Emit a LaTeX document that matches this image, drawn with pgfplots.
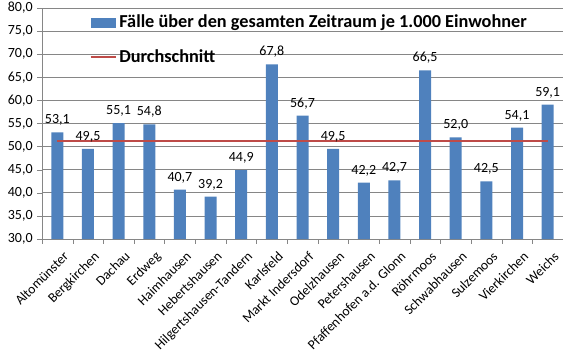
\documentclass[border=0pt]{standalone}
\usepackage{fontspec}
\setmainfont{Carlito}
\usepackage{pgfplots}
\pgfplotsset{compat=1.18}
\definecolor{barblue}{HTML}{4F81BD}
\definecolor{avgred}{HTML}{BE4B48}
\definecolor{gridgray}{HTML}{868686}
\begin{document}
\begin{tikzpicture}
\begin{axis}[
  scale only axis, width=390.75pt, height=173.25pt,
  xmin=-0.5, xmax=16.5, ymin=30, ymax=80,
  ytick={30,35,...,80},
  xtick={0,...,16},
  minor xtick={-0.5,0.5,...,16.5},
  xticklabels={Altomünster, Bergkirchen, Dachau, Erdweg, Haimhausen, Hebertshausen, Hilgertshausen-Tandern, Karlsfeld, Markt Indersdorf, Odelzhausen, Petershausen, Pfaffenhofen a.d. Glonn, Röhrmoos, Schwabhausen, Sulzemoos, Vierkirchen, Weichs},
  xticklabel style={xshift=4pt, yshift=-3.5pt, rotate=45, anchor=north east, font=\fontsize{10.2}{12}\selectfont, inner sep=1pt},
  yticklabel style={font=\fontsize{10.5}{12}\selectfont},
  major x tick style={draw=none},
  minor x tick style={draw=gridgray},
  y tick style={draw=gridgray},
  major tick length=3.5pt, minor tick length=3.5pt,
  tick align=outside,
  axis x line*=bottom, axis y line*=left,
  axis line style={draw=gridgray, line width=0.6pt, -},
  ymajorgrids, grid style={draw=gridgray, line width=0.6pt},
  /pgf/number format/fixed, /pgf/number format/fixed zerofill,
  /pgf/number format/precision=1, /pgf/number format/use comma,
  /pgf/number format/assume math mode=true,
  legend style={at={(0.091,0.982)}, anchor=north west, draw=none, fill=none,
    font=\bfseries\fontsize{13.7}{16}\selectfont, row sep=11pt, inner sep=0pt},
  legend cell align=left,
  clip=false,
]
\addplot[ybar, bar width=9pt, fill=barblue, draw=none,
  nodes near coords,
  nodes near coords style={font=\fontsize{10.5}{12}\selectfont, yshift=1.5pt, text=black},
  legend image code/.code={\fill[barblue] (0pt,-3.75pt) rectangle (18.75pt,3.75pt);}]
  coordinates {(0,53.1) (1,49.5) (2,55.1) (3,54.8) (4,40.7) (5,39.2) (6,44.9) (7,67.8) (8,56.7) (9,49.5) (10,42.2) (11,42.7) (12,66.5) (13,52.0) (14,42.5) (15,54.1) (16,59.1)};
\addlegendentry{Fälle über den gesamten Zeitraum je 1.000 Einwohner}
\addplot[sharp plot, avgred, line width=1.6pt, mark=none,
  legend image code/.code={\draw[avgred, line width=1.5pt] (0pt,0pt) -- (18.75pt,0pt);}]
  coordinates {(0,51.2) (16,51.2)};
\addlegendentry{Durchschnitt}
\coordinate (ll) at (rel axis cs:0,0);
\end{axis}
\pgfresetboundingbox
\path[use as bounding box] (ll) ++(-31.5pt,-87pt) rectangle ++(422.25pt,266.25pt);
\end{tikzpicture}
\end{document}
